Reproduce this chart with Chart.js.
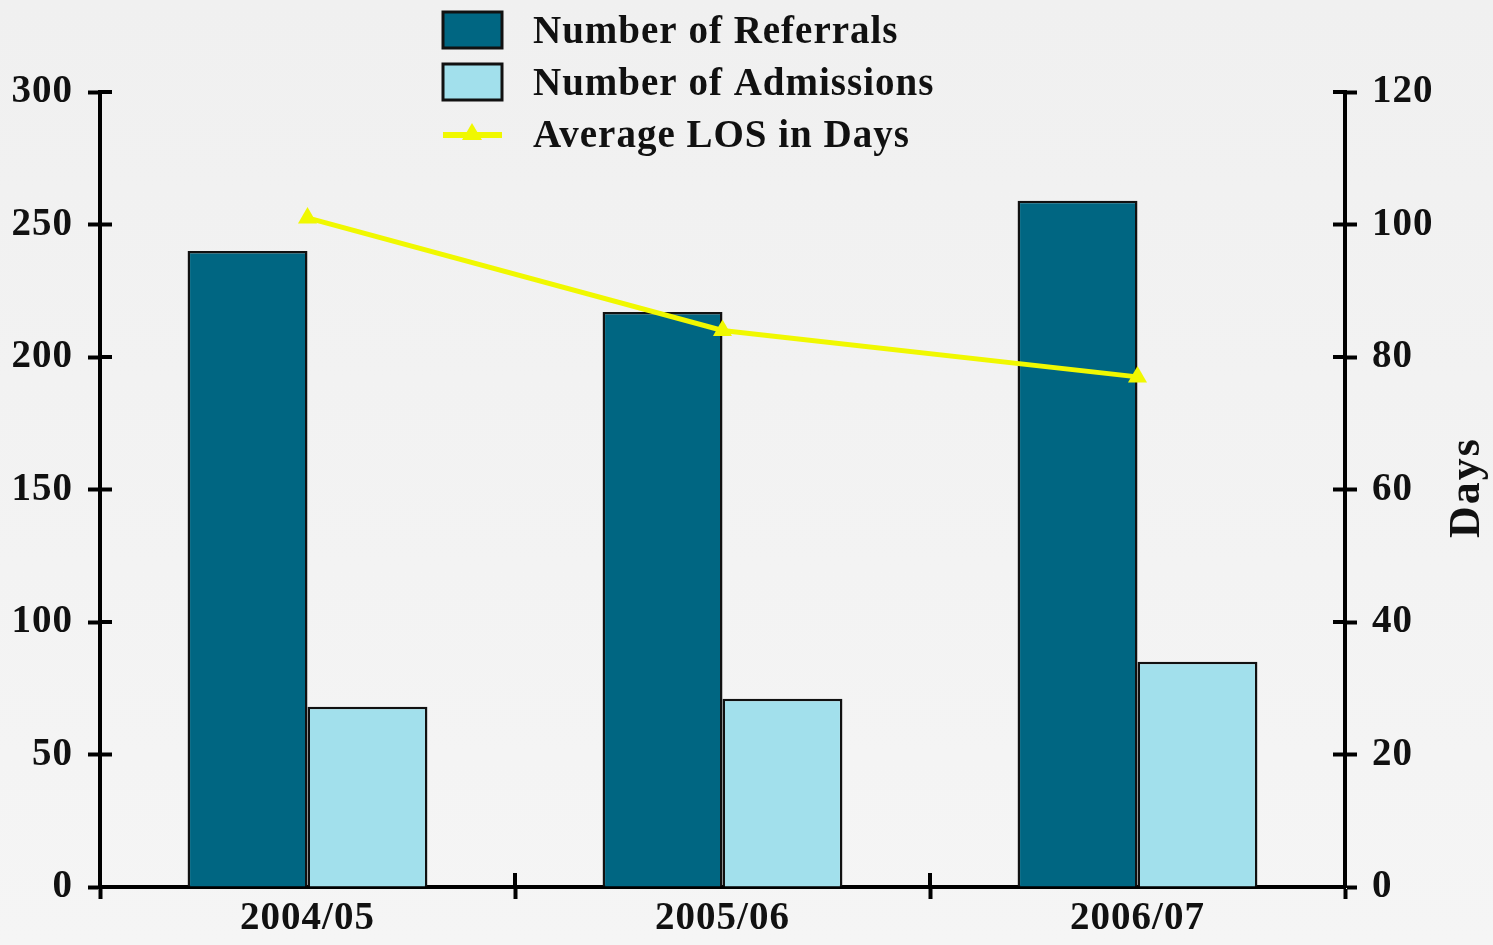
<!DOCTYPE html>
<html>
<head>
<meta charset="utf-8">
<script src="https://cdn.jsdelivr.net/npm/chart.js@4"></script>
<style>
  html, body { margin: 0; padding: 0; }
  body {
    width: 1493px; height: 945px; overflow: hidden;
    background: linear-gradient(to bottom, #f0f0f0, #f5f5f5);
  }
  .chart-container { position: relative; width: 1493px; height: 945px; }
</style>
</head>
<body>
<div class="chart-container">
  <canvas id="chart"></canvas>
</div>
<script>
const years = ["2004/05", "2005/06", "2006/07"];
const referrals = [240, 217, 259];
const admissions = [68, 71, 85];
const avgLos = [101, 84, 77];

const serif = "'Liberation Serif', 'Times New Roman', serif";

// the original text is a bit wide, so spread letters a little
const letterSpread = {
  id: "letterSpread",
  beforeDraw(chart) {
    chart.ctx.letterSpacing = "1px";
  }
};

// legend drawn by hand, stacked like the original
const stackedLegend = {
  id: "stackedLegend",
  afterDraw(chart) {
    const ctx = chart.ctx;
    ctx.save();
    chart.data.datasets.forEach((ds, i) => {
      const yc = 30 + i * 52;
      if (ds.type === "line") {
        ctx.strokeStyle = ds.borderColor;
        ctx.lineWidth = 6;
        ctx.beginPath();
        ctx.moveTo(443, yc + 1);
        ctx.lineTo(502, yc + 1);
        ctx.stroke();
        ctx.fillStyle = ds.borderColor;
        ctx.beginPath();
        ctx.moveTo(472, yc - 11);
        ctx.lineTo(482, yc + 6);
        ctx.lineTo(462, yc + 6);
        ctx.closePath();
        ctx.fill();
      } else {
        ctx.fillStyle = ds.backgroundColor;
        ctx.fillRect(443, yc - 18, 59, 36);
        ctx.strokeStyle = "#111";
        ctx.lineWidth = 3;
        ctx.strokeRect(443, yc - 18, 59, 36);
      }
      ctx.fillStyle = "#111";
      ctx.font = "bold 39px " + serif;
      ctx.letterSpacing = "1px";
      ctx.textBaseline = "middle";
      ctx.textAlign = "left";
      ctx.fillText(ds.label, 533, yc + 3);
    });
    ctx.restore();
  }
};

// inner halves of tick marks + rotated "Days" title
const axisExtras = {
  id: "axisExtras",
  afterDraw(chart) {
    const ctx = chart.ctx;
    const area = chart.chartArea;
    const y = chart.scales.y, y1 = chart.scales.y1, x = chart.scales.x;
    ctx.save();
    ctx.strokeStyle = "#000";
    ctx.lineWidth = 4;
    ctx.beginPath();
    y.ticks.forEach((t) => {
      const p = y.getPixelForValue(t.value);
      ctx.moveTo(area.left, p);
      ctx.lineTo(area.left + 12, p);
    });
    y1.ticks.forEach((t) => {
      const p = y1.getPixelForValue(t.value);
      ctx.moveTo(area.right, p);
      ctx.lineTo(area.right - 12, p);
    });
    for (let i = 1; i < years.length; i++) {
      const p = (x.getPixelForValue(i - 1) + x.getPixelForValue(i)) / 2;
      ctx.moveTo(p, area.bottom);
      ctx.lineTo(p, area.bottom - 14);
    }
    ctx.stroke();

    ctx.translate(1468, (area.top + area.bottom) / 2 - 2);
    ctx.rotate(-Math.PI / 2);
    ctx.fillStyle = "#111";
    ctx.font = "bold 44px " + serif;
    ctx.letterSpacing = "2px";
    ctx.textAlign = "center";
    ctx.textBaseline = "middle";
    ctx.fillText("Days", 0, 0);
    ctx.restore();
  }
};

const tickFont = { family: serif, size: 39, weight: "bold" };

const ctx = document.getElementById("chart").getContext("2d");
new Chart(ctx, {
  type: "bar",
  data: {
    labels: years,
    datasets: [
      {
        label: "Number of Referrals",
        data: referrals,
        backgroundColor: "#006682",
        borderColor: "#111",
        borderWidth: 2.5,
        yAxisID: "y",
        order: 2,
        barPercentage: 1,
        categoryPercentage: 0.578
      },
      {
        label: "Number of Admissions",
        data: admissions,
        backgroundColor: "#a2e0ec",
        borderColor: "#111",
        borderWidth: 2.5,
        yAxisID: "y",
        order: 2,
        barPercentage: 1,
        categoryPercentage: 0.578
      },
      {
        type: "line",
        label: "Average LOS in Days",
        data: avgLos,
        borderColor: "#f0f800",
        backgroundColor: "#f0f800",
        borderWidth: 5,
        pointStyle: "triangle",
        pointRadius: 11,
        pointBorderWidth: 0,
        tension: 0,
        yAxisID: "y1",
        order: 0
      }
    ]
  },
  options: {
    responsive: true,
    maintainAspectRatio: false,
    animation: false,
    layout: { padding: { top: 92, left: 0, right: 0, bottom: 0 } },
    plugins: {
      legend: { display: false },
      tooltip: { enabled: false }
    },
    scales: {
      x: {
        offset: true,
        border: { display: true, color: "#000", width: 4 },
        grid: {
          offset: true,
          drawOnChartArea: false,
          drawTicks: true,
          tickLength: 12,
          tickWidth: 4,
          tickColor: "#000"
        },
        ticks: {
          color: "#111",
          padding: 0,
          font: { ...tickFont, lineHeight: 1 }
        },
        afterFit: (scale) => { scale.height = 58; }
      },
      y: {
        position: "left",
        min: 0,
        max: 300,
        border: { display: true, color: "#000", width: 4 },
        grid: {
          drawOnChartArea: false,
          tickLength: 12,
          tickWidth: 4,
          tickColor: "#000"
        },
        ticks: {
          stepSize: 50,
          color: "#111",
          padding: 15,
          font: tickFont
        },
        afterFit: (scale) => { scale.width = 100; }
      },
      y1: {
        position: "right",
        min: 0,
        max: 120,
        border: { display: true, color: "#000", width: 4 },
        grid: {
          drawOnChartArea: false,
          tickLength: 12,
          tickWidth: 4,
          tickColor: "#000"
        },
        ticks: {
          stepSize: 20,
          color: "#111",
          padding: 15,
          font: tickFont
        },
        afterFit: (scale) => { scale.width = 148; }
      }
    }
  },
  plugins: [letterSpread, stackedLegend, axisExtras]
});
</script>
</body>
</html>
